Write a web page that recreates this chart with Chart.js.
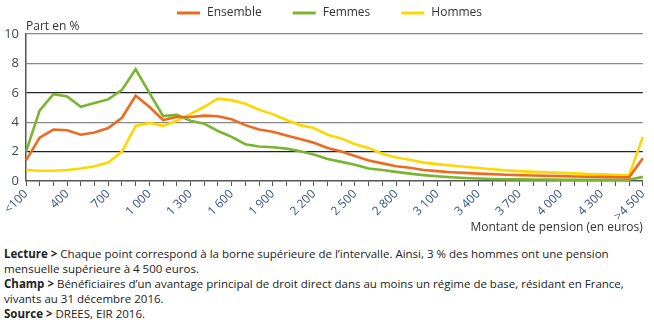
<!DOCTYPE html>
<html>
<head>
<meta charset="utf-8">
<script src="https://cdn.jsdelivr.net/npm/chart.js@4.4.0/dist/chart.umd.min.js"></script>
<style>
  html, body { margin: 0; padding: 0; background: #fff; }
  #wrap { position: relative; width: 654px; height: 324px; overflow: hidden; }
  #chart { position: absolute; left: 0; top: 0; }
  #notes {
    position: absolute; left: 4px; top: 246px; width: 650px;
    font-family: 'Liberation Sans Narrow', 'Open Sans', sans-serif;
    font-size: 11.5px; line-height: 15px; color: #222;
  }
  #notes b { font-weight: bold; }
</style>
</head>
<body>
<div id="wrap">
  <canvas id="chart" width="654" height="240"></canvas>
  <div id="notes">
    <b>Lecture &gt;</b> Chaque point correspond à la borne supérieure de l’intervalle. Ainsi, 3 % des hommes ont une pension<br>
    mensuelle supérieure à 4 500 euros.<br>
    <b>Champ &gt;</b> Bénéficiaires d’un avantage principal de droit direct dans au moins un régime de base, résidant en France,<br>
    vivants au 31 décembre 2016.<br>
    <b>Source &gt;</b> DREES, EIR 2016.
  </div>
</div>
<script>
'use strict';

const CATEGORIES = [
  '<100', '200', '300', '400', '500', '600', '700', '800', '900', '1 000',
  '1 100', '1 200', '1 300', '1 400', '1 500', '1 600', '1 700', '1 800', '1 900', '2 000',
  '2 100', '2 200', '2 300', '2 400', '2 500', '2 600', '2 700', '2 800', '2 900', '3 000',
  '3 100', '3 200', '3 300', '3 400', '3 500', '3 600', '3 700', '3 800', '3 900', '4 000',
  '4 100', '4 200', '4 300', '4 400', '4 500', '>4 500',
];

const ENSEMBLE = [
  1.4, 2.95, 3.5, 3.45, 3.15, 3.3, 3.6, 4.3, 5.8, 5.05,
  4.15, 4.35, 4.35, 4.45, 4.4, 4.2, 3.8, 3.5, 3.35, 3.1,
  2.85, 2.6, 2.25, 2.0, 1.7, 1.4, 1.2, 1.0, 0.9, 0.75,
  0.67, 0.6, 0.55, 0.5, 0.47, 0.43, 0.4, 0.37, 0.35, 0.33,
  0.31, 0.29, 0.28, 0.26, 0.25, 1.55,
];

const FEMMES = [
  2.0, 4.8, 5.9, 5.75, 5.05, 5.3, 5.55, 6.2, 7.6, 6.0,
  4.42, 4.5, 4.1, 3.9, 3.4, 3.0, 2.5, 2.35, 2.3, 2.2,
  2.02, 1.8, 1.5, 1.3, 1.1, 0.85, 0.75, 0.62, 0.5, 0.4,
  0.32, 0.25, 0.2, 0.17, 0.14, 0.12, 0.11, 0.1, 0.1, 0.09,
  0.09, 0.09, 0.09, 0.09, 0.09, 0.28,
];

const HOMMES = [
  0.75, 0.7, 0.7, 0.75, 0.85, 1.0, 1.25, 2.0, 3.75, 3.95,
  3.75, 4.1, 4.55, 5.05, 5.6, 5.5, 5.25, 4.85, 4.55, 4.15,
  3.8, 3.6, 3.15, 2.9, 2.5, 2.25, 1.85, 1.6, 1.45, 1.25,
  1.15, 1.05, 0.97, 0.88, 0.8, 0.72, 0.67, 0.62, 0.59, 0.55,
  0.52, 0.48, 0.45, 0.42, 0.38, 3.0,
];

const SERIES_LABELS = ['Ensemble', 'Femmes', 'Hommes'];
const SERIES_COLORS = ['#ED6B21', '#78B530', '#FFD700'];

const FONT = "'Open Sans', sans-serif";

// legend, axis titles
const textPlugin = {
  id: 'texts',
  afterDraw(chart) {
    const { ctx, chartArea } = chart;
    ctx.save();
    ctx.font = '12px ' + FONT;
    ctx.textBaseline = 'middle';

    // legend
    let x = 177;
    chart.data.datasets.forEach((ds) => {
      ctx.strokeStyle = ds.borderColor;
      ctx.lineWidth = 3;
      ctx.beginPath();
      ctx.moveTo(x, 13);
      ctx.lineTo(x + 23, 13);
      ctx.stroke();
      ctx.fillStyle = '#333';
      ctx.textAlign = 'left';
      ctx.fillText(ds.label, x + 30, 13);
      x += 30 + ctx.measureText(ds.label).width + 31;
    });

    ctx.fillStyle = '#333';
    ctx.textAlign = 'left';
    ctx.fillText('Part en %', chartArea.left, 27);
    ctx.textAlign = 'right';
    ctx.fillText('Montant de pension (en euros)', chartArea.right, 228);
    ctx.restore();
  },
};

const gridColor = (ctx) => {
  const v = ctx.tick.value;
  if (v === 0) return 'rgba(0,0,0,0)';
  return v === 2 || v === 6 ? '#222' : '#888';
};

const datasets = [ENSEMBLE, FEMMES, HOMMES].map((data, i) => ({
  label: SERIES_LABELS[i],
  data,
  borderColor: SERIES_COLORS[i],
  backgroundColor: SERIES_COLORS[i],
  borderWidth: 2.6,
  pointRadius: 0,
  tension: 0,
  fill: false,
}));

new Chart(document.getElementById('chart'), {
  type: 'line',
  data: { labels: CATEGORIES, datasets },
  plugins: [textPlugin],
  options: {
    responsive: false,
    animation: false,
    layout: { padding: { top: 34, right: 8, bottom: 0, left: 0 } },
    plugins: {
      legend: { display: false },
      tooltip: { enabled: false },
    },
    scales: {
      x: {
        offset: false,
        afterFit: (scale) => { scale.height = 59; },
        grid: {
          drawOnChartArea: false,
          drawTicks: true,
          tickLength: 5,
          tickColor: '#555',
          tickWidth: 1,
        },
        border: { color: '#555', width: 1.5 },
        ticks: {
          autoSkip: false,
          minRotation: 45,
          maxRotation: 45,
          padding: 1,
          color: '#3a5580',
          font: { family: FONT, size: 12 },
          callback: (v, i) => (i % 3 === 0 ? CATEGORIES[i] : ''),
        },
      },
      y: {
        min: 0,
        max: 10,
        afterFit: (scale) => { scale.width = 26; },
        grid: {
          drawTicks: false,
          color: gridColor,
          lineWidth: 1.2,
        },
        border: { color: '#555', width: 1.5 },
        ticks: {
          stepSize: 2,
          padding: 7,
          color: '#3d4852',
          font: { family: FONT, size: 13 },
        },
      },
    },
  },
});
</script>
</body>
</html>
